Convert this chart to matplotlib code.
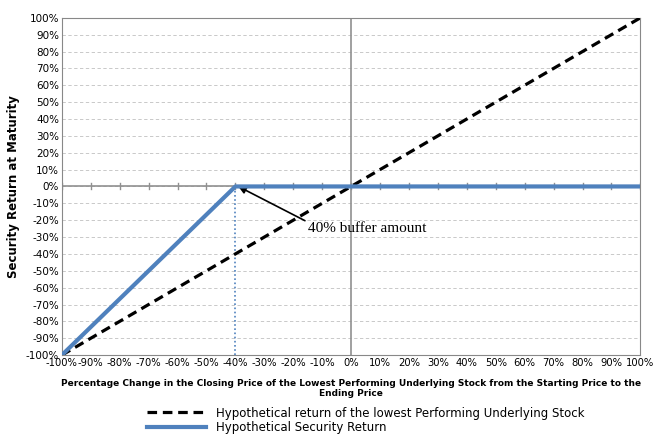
import matplotlib.pyplot as plt
import numpy as np

stock_x = [-100, 100]
stock_y = [-100, 100]
sec_x = [-100, -40, 100]
sec_y = [-100, 0, 0]
buffer_x = -40
ticks = list(range(-100, 101, 10))
tick_labels = [f"{t}%" for t in ticks]

fig = plt.figure(figsize=(6.65, 4.45), dpi=100)
ax = fig.add_axes([0.093, 0.202, 0.87, 0.758])
ax.set_xlim(-100, 100)
ax.set_ylim(-100, 100)
for t in ticks:
    ax.axhline(t, color='#c0c0c0', lw=0.6, ls=(0, (4, 3)), zorder=0)
ax.axhline(0, color='#909090', lw=1.2, zorder=1)
ax.axvline(0, color='#909090', lw=1.2, zorder=1)
for t in ticks:
    ax.plot([t, t], [-1.8, 1.8], color='#909090', lw=1, zorder=1)
ax.plot(stock_x, stock_y, color='black', lw=2.3, ls=(0, (3, 1.8)),
        label='Hypothetical return of the lowest Performing Underlying Stock', zorder=3)
ax.plot(sec_x, sec_y, color='#4f81bd', lw=3, label='Hypothetical Security Return', zorder=4)
ax.plot([buffer_x, buffer_x], [-100, 0], color='#4f81bd', lw=1.2, ls=(0, (1, 1.5)), zorder=2)
ax.annotate('40% buffer amount', xy=(-39, 0), xytext=(-15, -25),
            fontsize=11, family='Liberation Serif',
            arrowprops=dict(arrowstyle='-|>', color='black', lw=1.2, shrinkA=0, shrinkB=0,
                            relpos=(0, 1)), va='center')
ax.set_xticks(ticks)
ax.set_xticklabels(tick_labels, fontsize=7.2)
ax.set_yticks(ticks)
ax.set_yticklabels(tick_labels, fontsize=7.5)
ax.tick_params(length=0, pad=2)
for s in ax.spines.values():
    s.set_color('#888888')
ax.set_ylabel('Security Return at Maturity', fontsize=8.5, fontweight='bold')
ax.set_xlabel('Percentage Change in the Closing Price of the Lowest Performing Underlying Stock from the Starting Price to the\nEnding Price',
              fontsize=6.5, fontweight='bold', labelpad=8)
fig.legend(loc='lower center', bbox_to_anchor=(0.55, 0.0), frameon=False, fontsize=8.5,
           handlelength=5, labelspacing=0.15)
fig.savefig('out.png', dpi=100)
